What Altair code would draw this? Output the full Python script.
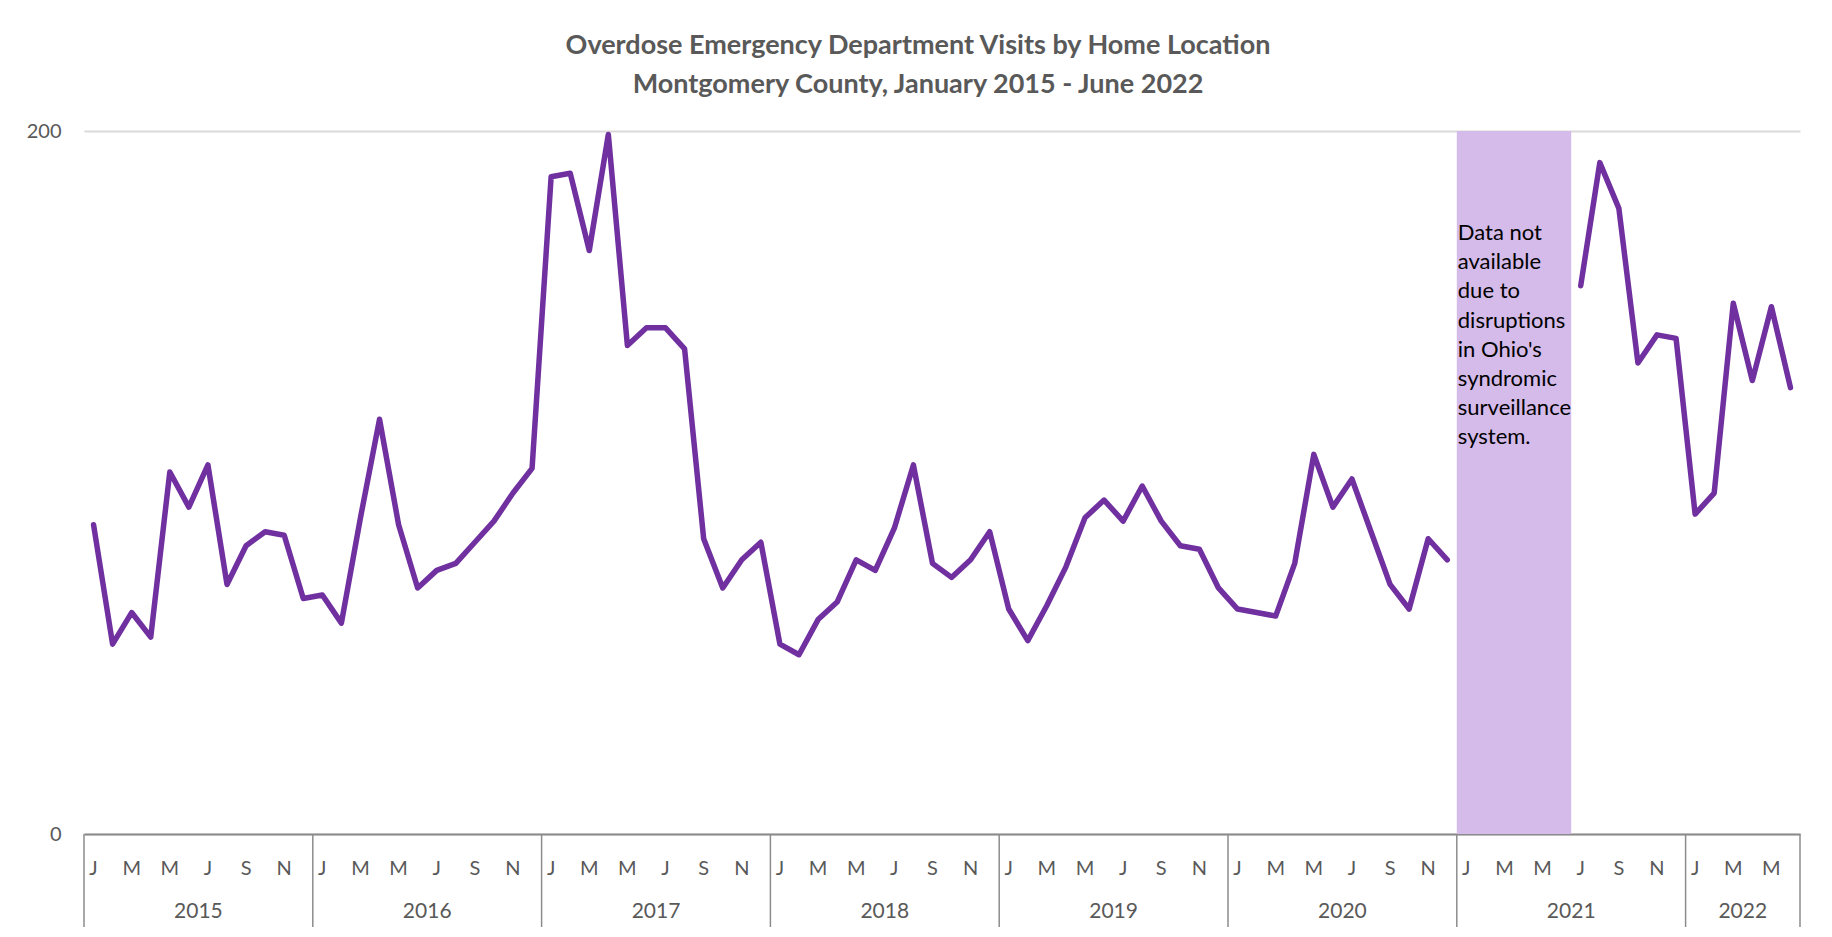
import altair as alt
import pandas as pd

FONT = "Lato"
GREY_TEXT = "#595959"

title_lines = [
    "Overdose Emergency Department Visits by Home Location",
    "Montgomery County, January 2015 - June 2022",
]
years = [2015, 2016, 2017, 2018, 2019, 2020, 2021, 2022]
month_letters = ["J", "F", "M", "A", "M", "J", "J", "A", "S", "O", "N", "D"]

visits_2015 = [88, 54, 63, 56, 103, 93, 105, 71, 82, 86, 85, 67]
visits_2016 = [68, 60, 90, 118, 88, 70, 75, 77, 83, 89, 97, 104]
visits_2017 = [187, 188, 166, 199, 139, 144, 144, 138, 84, 70, 78, 83]
visits_2018 = [54, 51, 61, 66, 78, 75, 87, 105, 77, 73, 78, 86]
visits_2019 = [64, 55, 65, 76, 90, 95, 89, 99, 89, 82, 81, 70]
visits_2020 = [64, 63, 62, 77, 108, 93, 101, 86, 71, 64, 84, 78]
visits_2021 = [None, None, None, None, None, None, 156, 191, 178, 134, 142, 141]
visits_2022 = [91, 97, 151, 129, 150, 127]

all_visits = [visits_2015, visits_2016, visits_2017, visits_2018,
              visits_2019, visits_2020, visits_2021, visits_2022]

note_text = "Data not\navailable\ndue to\ndisruptions\nin Ohio's\nsyndromic\nsurveillance\nsystem."
y_ticks = [0, 200]

# ---- build tables ----
line_rows, month_rows, year_rows, sep_rows = [], [], [], []
start = 0
gap_start, gap_end = None, None
for yr, vals in zip(years, all_visits):
    n = len(vals)
    sep_rows.append({"pos": start})
    year_rows.append({"year": str(yr), "pos": start + n / 2})
    for m, v in enumerate(vals):
        idx = start + m
        if m % 2 == 0:
            month_rows.append({"letter": month_letters[m], "pos": idx + 0.5})
        if v is None:
            if gap_start is None:
                gap_start = idx
            gap_end = idx + 1
            continue
        line_rows.append({"pos": idx + 0.5, "visits": v,
                          "period": "after gap" if (gap_start is not None) else "before gap"})
    start += n
sep_rows.append({"pos": start})
total_months = start

line_df = pd.DataFrame(line_rows)
month_df = pd.DataFrame(month_rows)
year_df = pd.DataFrame(year_rows)
sep_df = pd.DataFrame(sep_rows)
gap_df = pd.DataFrame([{"x0": gap_start, "x1": gap_end,
                        "ytop": max(y_ticks), "ybot": min(y_ticks),
                        "note": note_text}])

W, H = 1716, 703
xscale = alt.Scale(domain=[0, total_months], nice=False, zero=False)
yscale = alt.Scale(domain=[min(y_ticks), max(y_ticks)], nice=False)

xaxis = alt.Axis(title=None, labels=False, ticks=False, grid=False,
                 domain=True, domainColor="#8C8C8C", domainWidth=2)
yaxis = alt.Axis(title=None, values=y_ticks, ticks=False, domain=False,
                 grid=True, gridColor="#D9D9D9", gridWidth=2,
                 labelFont=FONT, labelFontSize=20, labelColor=GREY_TEXT,
                 labelPadding=23)

shade = alt.Chart(gap_df).mark_rect(color="#D5BBE9").encode(
    x=alt.X("x0:Q", scale=xscale, axis=xaxis),
    x2="x1:Q",
    y=alt.Y("ytop:Q", scale=yscale, axis=yaxis),
    y2="ybot:Q",
)

note = alt.Chart(gap_df).mark_text(
    align="left", baseline="middle", font=FONT, fontSize=22,
    color="#000000", lineBreak="\n", lineHeight=29.2, dx=1,
).encode(
    x=alt.X("x0:Q", scale=xscale),
    y=alt.value(102),
    text="note:N",
)

line = alt.Chart(line_df).mark_line(
    color="#7030A0", strokeWidth=5.5, strokeCap="round", strokeJoin="round"
).encode(
    x=alt.X("pos:Q", scale=xscale),
    y=alt.Y("visits:Q", scale=yscale),
    detail="period:N",
)

seps = alt.Chart(sep_df).mark_rule(color="#8C8C8C", strokeWidth=1.5).encode(
    x=alt.X("pos:Q", scale=xscale),
    y=alt.value(H),
    y2=alt.value(H + 93),
)

months = alt.Chart(month_df).mark_text(
    font=FONT, fontSize=20, color=GREY_TEXT, baseline="middle"
).encode(
    x=alt.X("pos:Q", scale=xscale),
    y=alt.value(H + 35),
    text="letter:N",
)

year_text = alt.Chart(year_df).mark_text(
    font=FONT, fontSize=21, color=GREY_TEXT, baseline="middle"
).encode(
    x=alt.X("pos:Q", scale=xscale),
    y=alt.value(H + 78),
    text="year:N",
)

chart = alt.layer(shade, note, line, seps, months, year_text).properties(
    width=W,
    height=H,
    title=alt.TitleParams(
        text=title_lines, font=FONT, fontSize=27, fontWeight="bold",
        color=GREY_TEXT, anchor="middle", frame="group", dx=-24,
        offset=22, lineHeight=39,
    ),
    autosize=alt.AutoSizeParams(type="none"),
    padding={"left": 76, "top": 123, "right": 20, "bottom": 97},
).configure_view(stroke=None)

chart.save("out.html", embed_options={"renderer": "svg", "actions": False})
